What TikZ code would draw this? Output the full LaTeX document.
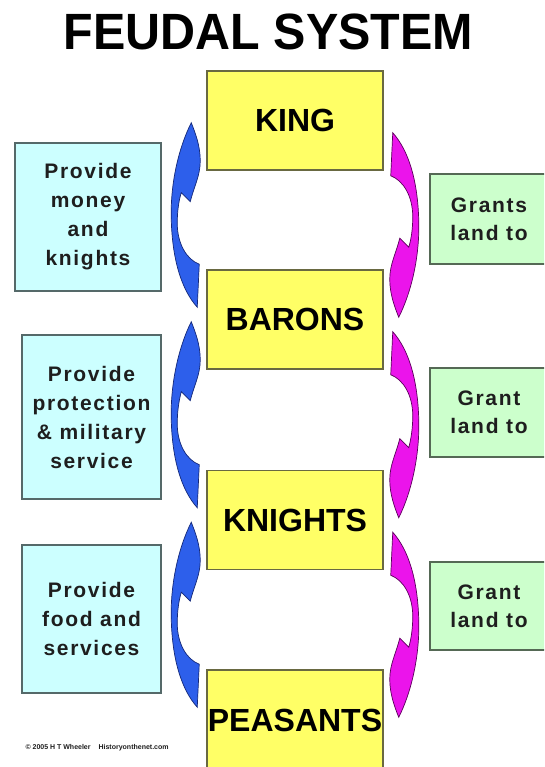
\documentclass[tikz,border=0pt]{standalone}
\usepackage{fontspec}
\usepackage{graphicx}
\setmainfont{Liberation Sans}
\newfontfamily\labelfont{Liberation Sans}[LetterSpace=8]
\usetikzlibrary{calc}

\definecolor{rankfill}{RGB}{255,255,102}
\definecolor{rankedge}{RGB}{105,105,65}
\definecolor{dutyfill}{RGB}{204,255,255}
\definecolor{dutyedge}{RGB}{85,105,105}
\definecolor{grantfill}{RGB}{204,255,204}
\definecolor{grantedge}{RGB}{85,105,85}
\definecolor{labeltext}{RGB}{30,30,30}
\definecolor{upblue}{RGB}{45,95,235}
\definecolor{upblueedge}{RGB}{20,40,120}
\definecolor{downpink}{RGB}{235,20,235}
\definecolor{downpinkedge}{RGB}{90,0,90}

% curved block arrow: #1 tail anchor, #2 head anchor, #3 = 1 (left, upwards) or -1 (right, downwards), #4 style
\newcommand{\bentarrow}[4]{%
  \filldraw[#4] ($(#1)+#3*(-9,-38)$) -- ($(#1)+#3*(-7,5)$)
    .. controls ($(#1)+#3*(-20,10)$) and ($(#1)+#3*(-29,26)$) .. ($(#1)+#3*(-29,46)$)
    .. controls ($(#1)+#3*(-29,60)$) and ($(#1)+#3*(-27,70)$) .. ($(#2)+#3*(-25,-22)$)
    -- ($(#2)+#3*(-16,-31)$)
    .. controls ($(#2)+#3*(-12,-15)$) and ($(#2)+#3*(-6,-5)$) .. ($(#2)+#3*(-6,10)$)
    .. controls ($(#2)+#3*(-6,25)$) and ($(#2)+#3*(-11,38)$) .. ($(#2)+#3*(-15,48)$)
    .. controls ($(#2)+#3*(-28,22)$) and ($(#1)+#3*(-36,85)$) .. ($(#1)+#3*(-35,50)$)
    .. controls ($(#1)+#3*(-34,10)$) and ($(#1)+#3*(-25,-20)$) .. ($(#1)+#3*(-9,-38)$) -- cycle;%
}

\begin{document}
\begin{tikzpicture}[x=1pt, y=1pt, rank/.style={rectangle, draw=rankedge, line width=1.5pt, fill=rankfill, minimum width=176pt, minimum height=99pt, inner sep=0pt, font=\fontsize{32}{32}\selectfont\bfseries}, duty/.style={rectangle, draw=dutyedge, line width=1.5pt, fill=dutyfill, align=center, inner sep=0pt, text=labeltext, font=\labelfont\fontsize{21}{29}\selectfont\bfseries}, grant/.style={duty, draw=grantedge, fill=grantfill, minimum width=118pt, font=\labelfont\fontsize{21}{28}\selectfont\bfseries}, upflow/.style={fill=upblue, draw=upblueedge, line width=0.7pt}, downflow/.style={fill=downpink, draw=downpinkedge, line width=0.7pt}]

\useasboundingbox (0,0) rectangle (544,767);
\clip (0,0) rectangle (544,767);
\fill[white] (0,0) rectangle (544,767);

\node [font=\fontsize{51}{51}\selectfont\bfseries, anchor=base] (TITLE) at (268.5,717) {\scalebox{0.95}[1]{FEUDAL SYSTEM}};

\node [rank] (KING) at (295,646.5) {KING};
\node [rank] (BAR) at (295,447.5) {BARONS};
\node [rank] (KNI) at (295,247) {KNIGHTS};
\node [rank, minimum height=100pt] (PEAS) at (295,47) {PEASANTS};

\node [duty, minimum width=146pt, minimum height=148pt] (MONEY) at (88,550) {Provide\\money\\and\\knights};
\node [duty, minimum width=139pt, minimum height=164pt] (GUARD) at (91.5,350) {Provide\\protection\\\& military\\service};
\node [duty, minimum width=139pt, minimum height=148pt] (FOOD) at (91.5,148) {Provide\\food and\\services};

\node [grant, minimum height=90pt] (GKB) at (489,548) {Grants\\land to};
\node [grant, minimum height=89pt] (GBK) at (489,354.5) {Grant\\land to};
\node [grant, minimum height=88pt] (GKP) at (489,161) {Grant\\land to};

\bentarrow{BAR.north west}{KING.south west}{1}{upflow}
\bentarrow{KNI.north west}{BAR.south west}{1}{upflow}
\bentarrow{PEAS.north west}{KNI.south west}{1}{upflow}
\bentarrow{KING.south east}{BAR.north east}{-1}{downflow}
\bentarrow{BAR.south east}{KNI.north east}{-1}{downflow}
\bentarrow{KNI.south east}{PEAS.north east}{-1}{downflow}

\node [anchor=west, font=\fontsize{7}{8}\selectfont\bfseries, text=labeltext] (FOOT) at (22,19) {\copyright{} 2005 H T Wheeler\hspace{8pt}Historyonthenet.com};

\end{tikzpicture}
\end{document}
